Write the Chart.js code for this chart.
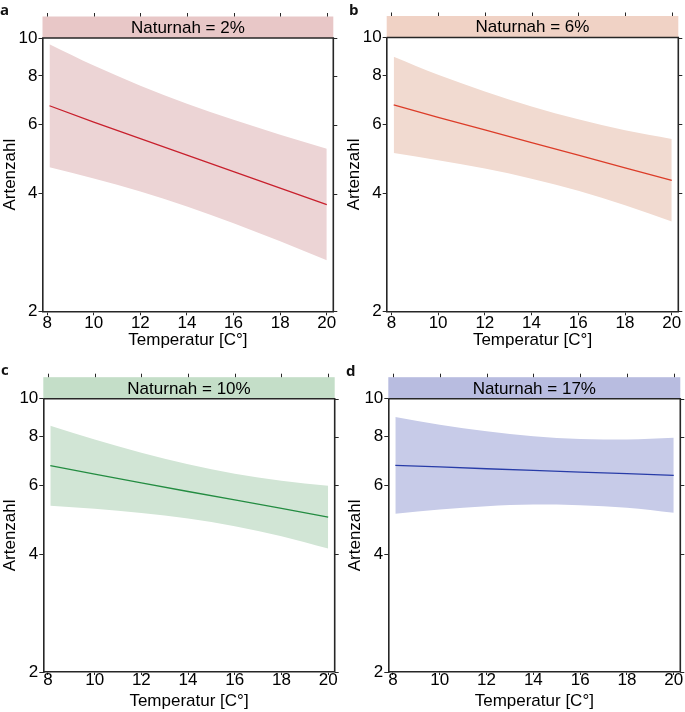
<!DOCTYPE html>
<html><head><meta charset="utf-8">
<script src="https://cdn.jsdelivr.net/npm/chart.js@4.4.0/dist/chart.umd.min.js"></script>
<style>
html,body{margin:0;padding:0;background:#fff;}
#wrap{position:relative;width:685px;height:712px;overflow:hidden;background:#fff;}
canvas{position:absolute;}
</style></head><body>
<div id="wrap">
<canvas id="pa" width="342" height="356" style="left:0px;top:0px;width:342px;height:356px"></canvas>
<canvas id="pb" width="343" height="356" style="left:342px;top:0px;width:343px;height:356px"></canvas>
<canvas id="pc" width="342" height="356" style="left:0px;top:356px;width:342px;height:356px"></canvas>
<canvas id="pd" width="343" height="356" style="left:342px;top:356px;width:343px;height:356px"></canvas>
</div>
<script>
// ---- data ----
const temperature = [8.1, 10, 12, 14, 16, 18, 20];
const xTickValues = [8, 10, 12, 14, 16, 18, 20];
const yTickValues = [2, 4, 6, 8, 10];
const panelLetters = ['a', 'b', 'c', 'd'];
const stripLabels = ['Naturnah = 2%', 'Naturnah = 6%', 'Naturnah = 10%', 'Naturnah = 17%'];
const xTitle = 'Temperatur [C°]';
const yTitle = 'Artenzahl';

const fitA   = [6.71, 6.09, 5.53, 5.02, 4.55, 4.13, 3.75];
const upperA = [9.64, 8.50, 7.55, 6.79, 6.18, 5.66, 5.21];
const lowerA = [4.67, 4.37, 4.05, 3.71, 3.36, 3.02, 2.70];

const fitB   = [6.73, 6.25, 5.81, 5.39, 5.01, 4.65, 4.32];
const upperB = [8.93, 8.03, 7.28, 6.67, 6.18, 5.80, 5.51];
const lowerB = [5.07, 4.86, 4.63, 4.36, 4.06, 3.73, 3.39];

const fitC   = [6.74, 6.41, 6.09, 5.79, 5.51, 5.24, 4.98];
const upperC = [8.53, 7.86, 7.27, 6.80, 6.43, 6.17, 5.99];
const lowerC = [5.32, 5.23, 5.10, 4.94, 4.72, 4.45, 4.14];

const fitD   = [6.75, 6.69, 6.62, 6.56, 6.49, 6.43, 6.37];
const upperD = [8.98, 8.58, 8.26, 8.02, 7.89, 7.86, 7.94];
const lowerD = [5.08, 5.21, 5.31, 5.36, 5.34, 5.26, 5.11];

const fits = [fitA, fitB, fitC, fitD];
const uppers = [upperA, upperB, upperC, upperD];
const lowers = [lowerA, lowerB, lowerC, lowerD];

// ---- styles / layout ----
const lineColors  = ['#c8202d', '#dc3c28', '#238c41', '#283ca8'];
const bandColors  = ['rgba(236,212,213,1)', 'rgba(241,218,208,1)', 'rgba(209,229,213,1)', 'rgba(199,203,232,1)'];
const stripColors = ['#e8c7c7', '#f0d2c5', '#c4dec8', '#b8bce0'];
const canvasIds = ['pa', 'pb', 'pc', 'pd'];
const layoutBox = [
  {w:342, L:42.5, R:333.3, T:38,   B:311.3, tl:4, tp:-0.5, tb:5.8, yt:0,   lx:0, ly:15},
  {w:343, L:44.7, R:336.3, T:37.5, B:311.3, tl:4, tp:-0.5, tb:5.8, yt:2.5, lx:7, ly:15},
  {w:342, L:43.3, R:334.7, T:42.7, B:316,   tl:3, tp:-3,   tb:0.3, yt:0,   lx:1, ly:19},
  {w:343, L:46.3, R:338.3, T:42.7, B:316,   tl:3, tp:-3,   tb:0.3, yt:3,   lx:4, ly:20}
];
const FAM = '"Liberation Sans", Arial, sans-serif';
const AX = '#262626';
const H = 356;
const STRIP_H = 21.5;

const framePlugin = {
  id: 'frame',
  afterDraw(chart, args, opts) {
    const {ctx, chartArea: ca, scales} = chart;
    ctx.save();
    const st = ca.top - STRIP_H;
    ctx.fillStyle = opts.stripColor;
    ctx.fillRect(ca.left, st, ca.right - ca.left, STRIP_H);
    ctx.fillStyle = '#000';
    ctx.font = '17px ' + FAM;
    ctx.textAlign = 'center';
    ctx.textBaseline = 'middle';
    ctx.fillText(opts.label, (ca.left + ca.right) / 2, st + STRIP_H / 2 + 1);
    ctx.strokeStyle = AX;
    ctx.lineWidth = 1.6;
    ctx.beginPath();
    ctx.moveTo(ca.left, ca.top);
    ctx.lineTo(ca.right, ca.top);
    ctx.lineTo(ca.right, ca.bottom);
    ctx.stroke();
    ctx.lineWidth = 1;
    ctx.beginPath();
    for (const v of xTickValues) {
      const px = Math.round(scales.x.getPixelForValue(v)) + 0.5;
      ctx.moveTo(px, st);
      ctx.lineTo(px, st - 3.5);
    }
    for (const v of yTickValues) {
      const py = Math.round(scales.y.getPixelForValue(v)) + 0.5;
      ctx.moveTo(ca.right, py);
      ctx.lineTo(ca.right + 4, py);
    }
    ctx.stroke();
    ctx.fillStyle = '#111';
    ctx.font = 'bold 15px "Open Sans", "DejaVu Sans", sans-serif';
    ctx.textAlign = 'left';
    ctx.textBaseline = 'alphabetic';
    ctx.fillText(opts.letter, opts.lx, opts.ly);
    ctx.restore();
  }
};

function makeChart(i) {
  const lb = layoutBox[i];
  const pts = arr => temperature.map((t, k) => ({x: t, y: arr[k]}));
  return new Chart(document.getElementById(canvasIds[i]), {
    type: 'line',
    data: {
      datasets: [
        {label: 'fit', data: pts(fits[i]), borderColor: lineColors[i], borderWidth: 1.3,
         pointRadius: 0, fill: false, tension: 0, order: 0},
        {label: 'upper', data: pts(uppers[i]), borderColor: 'rgba(0,0,0,0)', borderWidth: 0,
         backgroundColor: bandColors[i], pointRadius: 0, fill: '+1', cubicInterpolationMode: 'monotone', order: 1},
        {label: 'lower', data: pts(lowers[i]), borderColor: 'rgba(0,0,0,0)', borderWidth: 0,
         backgroundColor: bandColors[i], pointRadius: 0, fill: false, cubicInterpolationMode: 'monotone', order: 2}
      ]
    },
    options: {
      responsive: false,
      animation: false,
      events: [],
      layout: {padding: {left: 0, top: lb.T, right: lb.w - lb.R, bottom: 0}},
      plugins: {
        legend: {display: false},
        tooltip: {enabled: false},
        frame: {stripColor: stripColors[i], label: stripLabels[i], letter: panelLetters[i], lx: lb.lx, ly: lb.ly}
      },
      scales: {
        x: {
          type: 'linear', min: 7.8, max: 20.28,
          afterBuildTicks: s => { s.ticks = xTickValues.map(v => ({value: v})); },
          afterFit: s => { s.height = H - lb.B; },
          ticks: {callback: v => String(v), font: {size: 17, family: FAM, lineHeight: 1}, color: '#000',
                  padding: lb.tp, maxRotation: 0, autoSkip: false},
          grid: {display: true, drawOnChartArea: false, drawTicks: true, tickLength: lb.tl, color: AX, tickWidth: 1},
          border: {display: true, color: AX, width: 1.6},
          title: {display: true, text: xTitle, font: {size: 17, family: FAM}, color: '#000', padding: {top: 0, bottom: lb.tb}}
        },
        y: {
          type: 'logarithmic', min: 2, max: 10, position: 'left',
          afterBuildTicks: s => { s.ticks = yTickValues.map(v => ({value: v})); },
          afterFit: s => { s.width = lb.L; },
          ticks: {callback: v => String(v), font: {size: 17, family: FAM}, color: '#000', padding: 1, autoSkip: false},
          grid: {display: true, drawOnChartArea: false, drawTicks: true, tickLength: 4, color: AX, tickWidth: 1},
          border: {display: true, color: AX, width: 1.6},
          title: {display: true, text: yTitle, font: {size: 17, family: FAM}, color: '#000', padding: {top: lb.yt, bottom: 0}}
        }
      }
    },
    plugins: [framePlugin]
  });
}
[0, 1, 2, 3].forEach(makeChart);
</script>
</body></html>
